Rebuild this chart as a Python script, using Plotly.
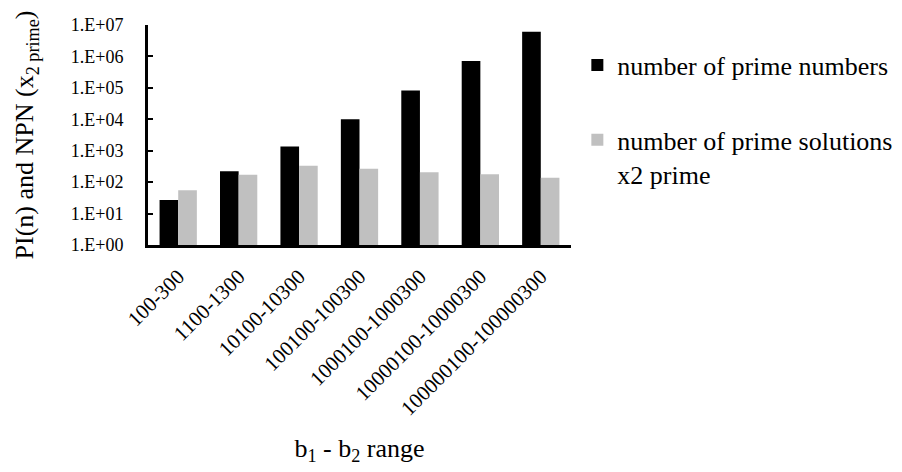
import plotly.graph_objects as go

categories = ["100-300", "1100-1300", "10100-10300", "100100-100300",
              "1000100-1000300", "10000100-10000300", "100000100-100000300"]
prime_numbers = [27, 221, 1350, 10100, 83000, 720000, 6100000]
prime_solutions = [55, 172, 334, 268, 206, 177, 138]
tick_vals = [1, 10, 100, 1000, 10000, 100000, 1000000, 10000000]
tick_text = ["1.E+00", "1.E+01", "1.E+02", "1.E+03", "1.E+04", "1.E+05", "1.E+06", "1.E+07"]

FONT = "Liberation Serif, Times New Roman, serif"

fig = go.Figure()
fig.add_trace(go.Bar(x=categories, y=prime_numbers, name="number of prime numbers",
                     marker=dict(color="#000000", line=dict(width=0)),
                     legendgroup="a"))
fig.add_trace(go.Bar(x=categories, y=prime_solutions, name="number of prime solutions<br>x2 prime",
                     marker=dict(color="#c0c0c0", line=dict(width=0)),
                     legendgroup="b"))

fig.update_layout(
    width=902, height=472,
    margin=dict(l=140, r=339, t=17, b=235, autoexpand=False),
    paper_bgcolor="white", plot_bgcolor="white",
    barmode="group", bargap=0.383, bargroupgap=0,
    font=dict(family=FONT, size=18, color="black"),
    showlegend=True,
    legend=dict(x=1.015, xanchor="left", y=0.925, yanchor="top",
                font=dict(family=FONT, size=26, color="black"),
                tracegroupgap=38, traceorder="grouped", valign="top",
                itemwidth=30, bgcolor="rgba(0,0,0,0)"),
    xaxis=dict(
        type="category", showline=True, linecolor="black", linewidth=3,
        ticks="", tickangle=-45, showgrid=False, zeroline=False,
        ticklabelstandoff=8,
        tickfont=dict(family=FONT, size=21, color="black"),
        title=dict(text="b<sub>1</sub> - b<sub>2</sub> range",
                   font=dict(family=FONT, size=26, color="black"), standoff=20),
    ),
    yaxis=dict(
        type="log", range=[0, 7], showline=True, linecolor="black", linewidth=3,
        ticks="inside", ticklen=5, tickwidth=2, tickcolor="black",
        ticklabelstandoff=18,
        tickvals=tick_vals, ticktext=tick_text, showgrid=False, zeroline=False,
        tickfont=dict(family=FONT, size=18, color="black"),
        title=dict(text="PI(n) and NPN (x<sub>2 prime</sub>)",
                   font=dict(family=FONT, size=26, color="black"), standoff=30),
    ),
)

fig.write_html("out.html")
